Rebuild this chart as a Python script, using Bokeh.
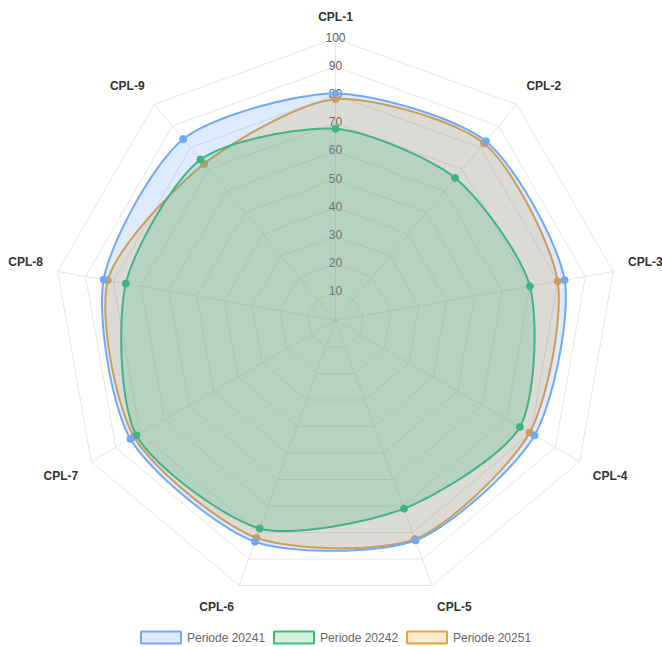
import numpy as np
from bokeh.plotting import figure
from bokeh.models import Range1d
from bokeh.embed import file_html
from bokeh.resources import INLINE
from bokeh.core.properties import value

# ---------------- data ----------------
categories = ["CPL-1", "CPL-2", "CPL-3", "CPL-4", "CPL-5", "CPL-6", "CPL-7", "CPL-8", "CPL-9"]
series_names = ["Periode 20241", "Periode 20242", "Periode 20251"]
periode_20241 = [80.5, 83, 82.5, 81.5, 83, 83.5, 84, 83.5, 84]
periode_20242 = [68, 66, 70, 75.5, 71, 78.5, 81.5, 75.5, 74.5]
periode_20251 = [78.5, 82, 80, 79.5, 82.5, 82, 82.5, 82, 72.5]
tick_values = [10, 20, 30, 40, 50, 60, 70, 80, 90, 100]
tick_labels = ["10", "20", "30", "40", "50", "60", "70", "80", "90", "100"]

# ---------------- styles ----------------
line_colors = ["#72a9f7", "#42bd70", "#e6a43e"]
fill_colors = ["#3b82f6", "#22c55e", "#f59e0b"]
fill_alphas = [0.17, 0.2, 0.2]
FONT = "Liberation Sans"
TENSION = 0.25

W, H = 662, 647
CX, CY = 335, 320          # centre of the radar in figure pixels
S = 2.82                   # pixels per value unit
RMAX = 100

p = figure(width=W, height=H,
           x_range=Range1d(-CX / S, (W - CX) / S),
           y_range=Range1d(-(H - CY) / S, CY / S),
           output_backend="svg", toolbar_location=None,
           x_axis_type=None, y_axis_type=None, min_border=0,
           outline_line_color=None, background_fill_color="white")

n = len(categories)
ang = np.arange(n) * 2 * np.pi / n      # clockwise from top
sa, ca = np.sin(ang), np.cos(ang)

# grid rings
ring_xs = [list(np.append(v * sa, v * sa[0])) for v in tick_values]
ring_ys = [list(np.append(v * ca, v * ca[0])) for v in tick_values]
p.multi_line(ring_xs, ring_ys, line_color="#e6e6e6", line_width=1)
# spokes
p.multi_line([[0, RMAX * s] for s in sa], [[0, RMAX * c] for c in ca],
             line_color="#e6e6e6", line_width=1)

# tick labels
p.text(x=[0] * len(tick_values), y=[v + 0.5 for v in tick_values], text=tick_labels,
       text_align="center", text_baseline="middle", text_font=value(FONT),
       text_font_size="12px", text_color="#606060")

# point labels
lab_r = RMAX + 15 / S
aligns, bases = [], []
for k in range(n):
    deg = round(np.degrees(ang[k]))
    aligns.append("center" if deg in (0, 180) else ("left" if deg < 180 else "right"))
    if deg in (90, 270):
        bases.append("middle")
    elif deg < 90 or deg > 270:
        bases.append("bottom")
    else:
        bases.append("top")
p.text(x=list(lab_r * sa), y=list(lab_r * ca), text=categories,
       text_align=aligns, text_baseline=bases, text_font=value(FONT),
       text_font_size="12px", text_font_style="bold", text_color="#333333")


def spline_path(xs, ys, t=0.4, steps=20):
    pts = np.column_stack([xs, ys])
    m = len(pts)
    cprev, cnext = [], []
    for i in range(m):
        p0, p1, p2 = pts[i - 1], pts[i], pts[(i + 1) % m]
        d01 = np.hypot(*(p1 - p0))
        d12 = np.hypot(*(p2 - p1))
        s01 = d01 / (d01 + d12)
        s12 = d12 / (d01 + d12)
        cprev.append(p1 - t * s01 * (p2 - p0))
        cnext.append(p1 + t * s12 * (p2 - p0))
    u = np.linspace(0, 1, steps, endpoint=False)[:, None]
    segs = []
    for i in range(m):
        a, b, c, d = pts[i], cnext[i], cprev[(i + 1) % m], pts[(i + 1) % m]
        segs.append((1 - u) ** 3 * a + 3 * (1 - u) ** 2 * u * b + 3 * (1 - u) * u ** 2 * c + u ** 3 * d)
    path = np.vstack(segs + [pts[:1]])
    return list(path[:, 0]), list(path[:, 1])


series = [periode_20241, periode_20242, periode_20251]
for idx in [2, 1, 0]:
    vals = np.array(series[idx], dtype=float)
    px, py = vals * sa, vals * ca
    sx, sy = spline_path(px, py, t=TENSION)
    p.patch(sx, sy, fill_color=fill_colors[idx], fill_alpha=fill_alphas[idx],
            line_color=line_colors[idx], line_width=2)
    p.scatter(list(px), list(py), size=7, fill_color=line_colors[idx],
              line_color=line_colors[idx], line_width=1)

# legend (Chart.js style, bottom centred)
box_w, box_h, gap, item_pad = 40, 12, 6, 10
text_w = 77
item_w = box_w + gap + text_w
total = len(series_names) * item_w + (len(series_names) - 1) * item_pad
x0 = CX - total / 2
ly = 637  # figure pixel row of legend centre
for i, name in enumerate(series_names):
    bx = x0 + i * (item_w + item_pad)
    cxp = (bx + box_w / 2 - CX) / S
    cyp = (CY - ly) / S
    p.rect(x=[cxp], y=[cyp], width=box_w / S, height=box_h / S,
           fill_color=fill_colors[i], fill_alpha=fill_alphas[i],
           line_color=line_colors[i], line_width=2)
    p.text(x=[(bx + box_w + gap - CX) / S], y=[cyp], text=[name],
           text_align="left", text_baseline="middle", text_font=value(FONT),
           text_font_size="12px", text_color="#666666")

open("out.html", "w").write(file_html(p, INLINE))
